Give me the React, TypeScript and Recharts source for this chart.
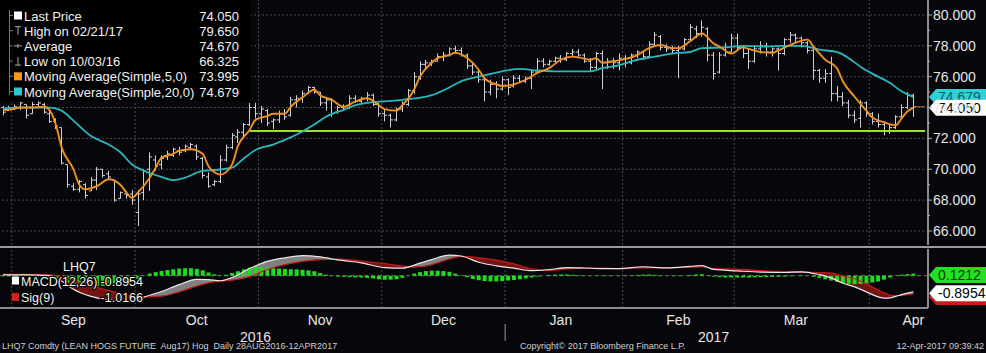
import React from "react";
import { ComposedChart, Bar, Line, Area, XAxis, YAxis, ReferenceLine } from "recharts";

// daily bars [open, high, low, close], one array per month
const augBars = [
  [74.0, 74.1, 73.5, 73.7], [73.8, 74.1, 73.8, 74.0],
];
const sepBars = [
  [74.0, 74.2, 73.85, 74.05], [74.0, 74.35, 73.85, 74.3], [74.2, 74.2, 73.3, 73.5],
  [73.6, 74.35, 73.6, 74.2], [74.2, 74.4, 74.0, 74.3], [74.2, 74.3, 73.6, 73.7],
  [73.6, 73.8, 73.0, 73.1], [73.1, 73.3, 72.6, 72.8], [72.7, 72.7, 70.3, 70.4],
  [70.3, 70.3, 68.8, 69.0], [68.9, 69.1, 68.6, 68.7], [68.7, 69.3, 68.5, 69.2],
  [69.0, 69.1, 68.1, 68.3], [68.6, 69.5, 68.6, 69.3], [69.3, 70.15, 68.65, 70.0],
  [70.0, 70.0, 69.45, 69.6], [69.7, 69.9, 69.3, 69.5], [69.3, 69.3, 67.9, 68.0],
  [68.1, 68.55, 68.1, 68.5], [68.4, 68.6, 68.1, 68.3], [68.4, 68.65, 67.7, 68.0],
];
const octBars = [
  [67.2, 68.65, 66.325, 68.4], [68.5, 70.0, 68.0, 69.9], [70.0, 71.1, 68.6, 70.8],
  [70.6, 70.9, 69.9, 70.2], [70.3, 70.9, 70.0, 70.7], [70.8, 71.2, 70.6, 71.0],
  [70.9, 71.4, 70.8, 71.3], [71.2, 71.45, 70.9, 71.1], [71.2, 71.6, 71.1, 71.5],
  [71.4, 71.7, 71.25, 71.6], [71.5, 71.6, 70.6, 70.8], [70.7, 70.8, 69.4, 69.6],
  [69.5, 69.8, 68.8, 68.9], [69.0, 69.3, 68.9, 69.2], [69.2, 70.9, 69.1, 70.6],
  [70.6, 71.6, 70.5, 71.4], [71.4, 72.35, 71.3, 72.2], [72.1, 72.6, 71.7, 72.4],
  [72.4, 73.0, 72.0, 72.9], [72.9, 74.3, 72.8, 74.0], [74.0, 74.3, 73.3, 73.6],
];
const novBars = [
  [73.6, 74.1, 73.0, 73.9], [73.8, 73.9, 72.8, 73.0], [73.1, 73.3, 72.6, 73.2],
  [73.2, 73.8, 73.0, 73.6], [73.6, 73.9, 73.2, 73.4], [73.5, 74.7, 73.4, 74.5],
  [74.5, 74.8, 74.0, 74.6], [74.6, 75.1, 74.3, 74.9], [74.9, 75.4, 74.9, 75.3],
  [75.3, 75.35, 74.9, 75.0], [75.0, 75.0, 74.1, 74.3], [74.3, 74.7, 73.8, 74.5],
  [74.5, 74.6, 73.4, 73.6], [73.7, 74.1, 73.6, 74.0], [74.0, 74.2, 73.8, 73.9],
  [74.0, 74.8, 73.9, 74.6], [74.6, 74.8, 74.3, 74.4], [74.4, 74.7, 74.3, 74.6],
  [74.6, 75.0, 74.4, 74.8], [74.8, 74.9, 74.1, 74.2], [74.2, 74.3, 73.4, 73.6],
];
const decBars = [
  [73.6, 73.9, 73.1, 73.5], [73.5, 73.6, 72.7, 73.2], [73.2, 74.0, 73.1, 73.9],
  [73.9, 74.4, 73.7, 74.2], [74.2, 75.2, 74.1, 75.1], [75.1, 76.3, 74.9, 76.0],
  [76.0, 77.0, 75.8, 76.8], [76.8, 77.1, 76.5, 76.9], [76.9, 77.1, 76.7, 77.0],
  [77.0, 77.5, 77.0, 77.3], [77.3, 77.6, 77.0, 77.4], [77.4, 77.9, 77.3, 77.8],
  [77.8, 78.0, 77.5, 77.7], [77.7, 77.9, 77.3, 77.4], [77.4, 77.5, 76.5, 76.7],
  [76.7, 76.9, 76.1, 76.3], [76.3, 76.5, 75.6, 75.8], [75.8, 76.0, 74.4, 75.0],
  [75.0, 75.8, 74.8, 75.5], [75.5, 75.7, 74.6, 75.2], [75.2, 76.0, 75.1, 75.8],
];
const janBars = [
  [75.8, 75.9, 74.8, 75.3], [75.4, 76.1, 75.3, 75.9], [75.9, 76.1, 75.6, 75.7],
  [75.7, 76.0, 75.6, 75.9], [75.9, 76.4, 75.2, 76.3], [76.3, 77.2, 76.2, 77.0],
  [77.0, 77.2, 76.6, 76.8], [76.8, 77.1, 76.7, 77.0], [77.0, 77.3, 76.9, 77.2],
  [77.2, 77.4, 76.9, 77.1], [77.1, 77.6, 77.0, 77.5], [77.5, 77.8, 77.3, 77.6],
  [77.6, 77.8, 77.3, 77.4], [77.4, 77.5, 76.9, 77.0], [77.0, 77.2, 76.3, 76.6],
  [76.6, 77.6, 76.5, 77.5], [77.5, 77.7, 75.2, 76.6], [76.6, 77.2, 76.5, 77.0],
  [77.0, 77.2, 76.5, 76.9], [76.9, 77.5, 76.4, 77.2],
];
const febBars = [
  [77.2, 77.4, 76.6, 76.9], [76.9, 77.5, 76.8, 77.4], [77.4, 77.7, 77.2, 77.6],
  [77.6, 77.7, 77.1, 77.3], [77.3, 78.3, 77.3, 78.1], [78.1, 78.9, 78.0, 78.7],
  [78.6, 78.7, 77.7, 77.9], [77.9, 78.1, 77.6, 77.8], [77.8, 78.0, 77.5, 77.7],
  [77.7, 78.0, 75.9, 77.8], [77.8, 78.5, 77.7, 78.4], [78.4, 79.4, 78.3, 79.2],
  [79.1, 79.3, 78.5, 78.8], [78.8, 79.65, 78.6, 79.2], [79.1, 79.2, 77.0, 77.4],
  [77.4, 77.6, 75.8, 76.2], [76.3, 77.6, 76.2, 77.4], [77.4, 78.2, 77.3, 77.6],
  [77.6, 78.8, 77.6, 78.5],
];
const marBars = [
  [78.5, 78.8, 77.7, 77.9], [77.9, 78.0, 77.2, 77.5], [77.5, 77.8, 76.5, 77.0],
  [77.0, 78.0, 76.9, 77.8], [77.8, 78.3, 77.5, 78.0], [78.0, 78.2, 77.3, 77.6],
  [77.6, 77.9, 77.3, 77.8], [77.8, 77.9, 76.4, 77.5], [77.5, 78.5, 77.4, 78.4],
  [78.4, 78.9, 78.2, 78.7], [78.7, 78.8, 78.2, 78.5], [78.5, 78.6, 77.9, 78.2],
  [78.2, 78.3, 77.5, 77.7], [77.7, 77.8, 75.8, 76.4], [76.4, 76.5, 75.6, 75.9],
  [75.9, 76.5, 75.6, 76.2], [76.2, 77.3, 74.4, 74.9], [74.9, 75.4, 74.4, 74.7],
  [74.7, 75.0, 74.1, 74.3], [74.3, 74.5, 73.3, 73.5], [73.5, 73.8, 73.0, 73.2],
  [73.3, 74.5, 72.7, 74.3], [74.3, 74.4, 73.4, 73.6],
];
const aprBars = [
  [73.6, 73.7, 72.9, 73.1], [73.1, 73.6, 72.7, 72.9], [72.9, 73.0, 72.2, 72.5],
  [72.5, 72.9, 72.3, 72.7], [72.7, 73.5, 72.6, 73.4], [73.4, 74.2, 73.3, 74.0],
  [74.0, 75.0, 73.9, 74.8], [74.8, 74.9, 73.4, 74.05],
];

// moving averages: [bar index, value]
const ma5Points = [
  [0, 73.85], [1, 73.85], [3, 74.0], [5, 74.0], [7, 74.05], [8, 73.8], [9, 72.9], [10, 71.4],
  [12, 70.0], [13, 69.0], [14, 68.7], [16, 68.9], [18, 69.35], [20, 69.0], [21, 68.5], [22, 68.15],
  [23, 68.5], [25, 69.45], [26, 70.1], [27, 70.75], [29, 71.0], [30, 71.2], [32, 71.3], [34, 71.0],
  [35, 70.2], [36, 69.8], [37, 69.65], [39, 70.3], [40, 71.5], [42, 72.55], [43, 73.2], [45, 73.45],
  [46, 73.6], [48, 73.6], [49, 74.05], [51, 74.65], [53, 75.15], [54, 74.8], [56, 74.5], [58, 74.05],
  [60, 74.4], [62, 74.6], [64, 74.15], [65, 73.9], [67, 73.8], [68, 74.15], [70, 75.15], [71, 76.0],
  [73, 76.9], [74, 77.2], [76, 77.4], [77, 77.55], [78, 77.45], [80, 76.9], [81, 76.45], [82, 75.9],
  [84, 75.5], [85, 75.4], [87, 75.5], [89, 75.8], [91, 76.25], [93, 76.55], [95, 77.1], [97, 77.3],
  [98, 77.25], [100, 77.1], [101, 77.2], [102, 76.9], [104, 77.0], [106, 77.15], [108, 77.4],
  [110, 77.85], [112, 78.05], [114, 77.85], [115, 77.85], [117, 78.3], [119, 78.8], [121, 78.15],
  [122, 77.95], [124, 77.5], [126, 77.9], [127, 77.8], [129, 77.6], [131, 77.55], [132, 77.7],
  [134, 78.05], [137, 78.4], [138, 77.95], [140, 77.1], [142, 76.55], [143, 75.7], [145, 74.7],
  [147, 73.8], [148, 73.35], [150, 73.05], [152, 72.85], [153, 73.3], [154, 73.75], [155, 73.995],
];
const ma20Points = [
  [0, 73.95], [3, 74.0], [8, 74.0], [10, 73.8], [12, 73.15], [15, 72.15], [18, 71.6], [20, 71.1],
  [22, 70.3], [24, 69.9], [27, 69.5], [29, 69.3], [31, 69.45], [34, 69.9], [36, 69.95], [39, 70.1],
  [41, 70.7], [43, 71.25], [46, 71.6], [48, 71.9], [51, 72.45], [53, 72.9], [55, 73.4], [58, 73.85],
  [60, 74.15], [63, 74.35], [65, 74.4], [68, 74.5], [73, 74.8], [76, 75.3], [78, 75.7], [81, 76.0],
  [85, 76.35], [88, 76.5], [91, 76.4], [94, 76.35], [97, 76.35], [100, 76.35], [102, 76.55],
  [105, 76.75], [107, 77.0], [111, 77.3], [114, 77.5], [117, 77.6], [119, 77.85], [123, 77.9],
  [126, 78.0], [130, 77.95], [133, 78.0], [136, 78.0], [139, 77.75], [142, 77.6], [144, 77.2],
  [146, 76.65], [148, 76.2], [151, 75.6], [153, 75.05], [155, 74.679],
];

// MACD(12,26) and Sig(9): [bar index, macd, signal]
const macdPoints = [
  [0, 0.05, 0.08], [4, 0.05, 0.07], [8, 0.0, 0.05], [10, -0.3, -0.05], [12, -0.75, -0.27],
  [15, -1.15, -0.55], [18, -1.35, -0.83], [21, -1.4, -1.06], [23, -1.35, -1.17], [24, -1.2, -1.18],
  [27, -0.88, -1.14], [30, -0.5, -0.9], [33, -0.2, -0.58], [35, -0.22, -0.4], [37, -0.28, -0.3],
  [39, -0.1, -0.25], [42, 0.4, -0.05], [45, 0.8, 0.35], [48, 1.0, 0.62], [51, 1.12, 0.8],
  [54, 1.05, 0.9], [57, 0.88, 0.93], [61, 0.72, 0.82], [65, 0.45, 0.67], [68, 0.42, 0.54],
  [71, 0.7, 0.5], [73, 0.9, 0.62], [76, 1.15, 0.93], [78, 1.1, 1.08], [81, 0.75, 1.0],
  [84, 0.55, 0.87], [87, 0.42, 0.66], [90, 0.28, 0.38], [93, 0.34, 0.3], [96, 0.45, 0.38],
  [99, 0.43, 0.42], [102, 0.4, 0.42], [105, 0.4, 0.4], [109, 0.5, 0.44], [113, 0.44, 0.44],
  [117, 0.52, 0.48], [119, 0.57, 0.49], [121, 0.35, 0.4], [125, 0.27, 0.37], [129, 0.2, 0.28],
  [133, 0.18, 0.23], [136, 0.22, 0.2], [139, 0.06, 0.18], [141, -0.12, 0.15], [143, -0.42, -0.02],
  [145, -0.62, -0.17], [147, -0.9, -0.45], [149, -1.18, -0.8], [150, -1.25, -0.95],
  [151, -1.24, -1.08], [152, -1.15, -1.12], [153, -1.05, -1.1], [154, -0.97, -1.06],
  [155, -0.8954, -1.0166],
];

// Diff histogram, one value per bar, by month
const diffAug = [-0.03, -0.03];
const diffSep = [-0.02, -0.02, -0.02, -0.01, 0, -0.02, -0.05, -0.12, -0.25, -0.38, -0.48, -0.55, -0.6, -0.6, -0.58, -0.56, -0.52, -0.46, -0.4, -0.34, -0.26];
const diffOct = [-0.18, 0.02, 0.12, 0.2, 0.26, 0.32, 0.36, 0.4, 0.42, 0.42, 0.38, 0.3, 0.18, 0.08, 0.02, 0.05, 0.15, 0.25, 0.35, 0.45, 0.5];
const diffNov = [0.48, 0.45, 0.42, 0.4, 0.38, 0.36, 0.35, 0.33, 0.3, 0.25, 0.15, 0.06, -0.02, -0.05, -0.06, -0.08, -0.1, -0.1, -0.12, -0.15, -0.2];
const diffDec = [-0.22, -0.22, -0.2, -0.12, 0, 0.12, 0.2, 0.26, 0.28, 0.28, 0.26, 0.22, 0.12, 0.02, -0.08, -0.18, -0.25, -0.3, -0.32, -0.32, -0.3];
const diffJan = [-0.27, -0.24, -0.2, -0.15, -0.1, -0.05, 0, 0.04, 0.06, 0.07, 0.07, 0.05, 0.03, 0.01, 0, 0.01, -0.02, -0.02, -0.01, 0];
const diffFeb = [0.01, 0.02, 0.04, 0.06, 0.07, 0.05, 0.02, 0, -0.02, -0.02, 0, 0.04, 0.07, 0.08, 0.02, -0.05, -0.08, -0.1, -0.1];
const diffMar = [-0.1, -0.1, -0.1, -0.09, -0.08, -0.08, -0.07, -0.06, -0.05, -0.03, 0, 0.02, 0, -0.06, -0.12, -0.2, -0.27, -0.34, -0.4, -0.45, -0.47, -0.46, -0.43];
const diffApr = [-0.38, -0.32, -0.22, -0.1, 0.02, 0.06, 0.09, 0.1212];

// first bar of each month (gridlines) and axis labels
const monthStarts = [2, 23, 44, 65, 86, 106, 125, 148];
const monthLabels = [[12, "Sep"], [33, "Oct"], [54, "Nov"], [75, "Dec"], [95, "Jan"], [115, "Feb"], [135, "Mar"], [155, "Apr"]];
const yearLabels = [[43, "2016"], [121, "2017"]];
const yearBreak = 86;
const priceTicks = [66, 67, 68, 69, 70, 71, 72, 73, 74, 75, 76, 77, 78, 79, 80];
const priceGrid = [66, 68, 70, 72, 74, 76, 78, 80];
const supportLine = { from: 42, value: 72.48 };

const legendRows = [
  { label: "Last Price", value: "74.050", icon: "square", color: "#ffffff" },
  { label: "High on 02/21/17", value: "79.650", icon: "high", color: "#aaaaaa" },
  { label: "Average", value: "74.670", icon: "avg", color: "#aaaaaa" },
  { label: "Low on 10/03/16", value: "66.325", icon: "low", color: "#aaaaaa" },
  { label: "Moving Average(Simple,5,0)", value: "73.995", icon: "square", color: "#f7941d" },
  { label: "Moving Average(Simple,20,0)", value: "74.679", icon: "square", color: "#2ec8cc" },
];
const macdLegend = [
  { label: "MACD(12,26)", value: "-0.8954", color: "#ffffff" },
  { label: "Sig(9)", value: "-1.0166", color: "#d21f1f" },
  { label: "Diff", value: "0.1212", color: "#22d822" },
];

const FONT = "'Liberation Sans', Arial, sans-serif";
const W = 986;
const AXIS_W = 58;
const SLOTS = 158;
const BAR_COLOR = "#cfcfd8";
const GRID = "#4a4a54";

const allBars = [...augBars, ...sepBars, ...octBars, ...novBars, ...decBars, ...janBars, ...febBars, ...marBars, ...aprBars];
const allDiff = [...diffAug, ...diffSep, ...diffOct, ...diffNov, ...diffDec, ...diffJan, ...diffFeb, ...diffMar, ...diffApr];
const ma5Map = new Map(ma5Points.map(([i, v]) => [i, v]));
const ma20Map = new Map(ma20Points.map(([i, v]) => [i, v]));
const macdMap = new Map(macdPoints.map(([i, m, s]) => [i, [m, s]]));

const priceData = Array.from({ length: SLOTS }, (_, i) => {
  const b = allBars[i];
  return {
    i,
    o: b ? b[0] : undefined,
    h: b ? b[1] : undefined,
    l: b ? b[2] : undefined,
    c: b ? b[3] : undefined,
    ma5: ma5Map.get(i),
    ma20: ma20Map.get(i),
  };
});

const macdData = Array.from({ length: SLOTS }, (_, i) => {
  const ms = macdMap.get(i);
  const row: any = { i, diff: allDiff[i] };
  if (ms) {
    const [m, s] = ms;
    row.macd = m;
    row.sig = s;
    row.up = m >= s ? [s, m] : [m, m];
    row.dn = m < s ? [m, s] : [s, s];
  }
  return row;
});

const OhlcShape = (props: any) => {
  const { x, y, width, height, payload } = props;
  if (payload == null || payload.h == null) return null;
  const top = Math.min(y, y + height);
  const span = Math.max(Math.abs(height), 1);
  const range = payload.h - payload.l || 1;
  const cx = Math.round(x + width / 2) + 0.5;
  const oy = top + ((payload.h - payload.o) / range) * span;
  const cy = top + ((payload.h - payload.c) / range) * span;
  return (
    <g stroke={BAR_COLOR} strokeWidth={1}>
      <line x1={cx} x2={cx} y1={top} y2={top + span} />
      <line x1={cx - 2.5} x2={cx} y1={oy} y2={oy} />
      <line x1={cx} x2={cx + 2.5} y1={cy} y2={cy} />
    </g>
  );
};

const PriceTick = (props: any) => {
  const { x, y, payload } = props;
  const v = payload.value as number;
  const major = v % 2 === 0;
  return (
    <g>
      <line x1={x} x2={x + (major ? 4 : 2)} y1={y} y2={y} stroke="#b0b0b0" />
      {major && (
        <text x={x + 5} y={y + 5} fill="#e6e6e6" fontSize={14} fontFamily={FONT}>
          {v.toFixed(3)}
        </text>
      )}
    </g>
  );
};

const monthMap = new Map(monthLabels.map(([i, t]) => [i as number, t as string]));
const yearMap = new Map(yearLabels.map(([i, t]) => [i as number, t as string]));

const DateTick = (props: any) => {
  const { x, y, payload } = props;
  const v = payload.value as number;
  const m = monthMap.get(v);
  const yr = yearMap.get(v);
  const band = (W - AXIS_W) / SLOTS;
  return (
    <g fontFamily={FONT} fontSize={14} fill="#e6e6e6">
      {m && <text x={x} y={y + 17} textAnchor="middle">{m}</text>}
      {yr && <text x={x} y={y + 34} textAnchor="middle">{yr}</text>}
      {v === yearBreak && <line x1={x - band / 2} x2={x - band / 2} y1={y + 16} y2={y + 33} stroke="#9a9a9a" />}
    </g>
  );
};

const tag = (text: string, bg: string, fg: string, shift = 0) => (props: any) => {
  const vb = props.viewBox || {};
  const x0 = (vb.x || 0) + (vb.width || 0);
  const yc = (vb.y || 0) + shift;
  return (
    <g>
      <path d={`M${x0 + 1},${yc} L${x0 + 8},${yc - 8} H${W} V${yc + 8} H${x0 + 8} Z`} fill={bg} />
      {text && <text x={x0 + 10} y={yc + 5} fill={fg} fontSize={14} fontFamily={FONT}>{text}</text>}
    </g>
  );
};

const LegendIcon = ({ icon, color, cy }: { icon: string; color: string; cy: number }) => {
  if (icon === "square") return <rect x={14} y={cy - 4} width={8} height={8} fill={color} />;
  if (icon === "high")
    return (
      <g stroke={color}>
        <line x1={15} x2={21} y1={cy - 4} y2={cy - 4} />
        <line x1={18} x2={18} y1={cy - 4} y2={cy + 4} />
      </g>
    );
  if (icon === "low")
    return (
      <g stroke={color}>
        <line x1={15} x2={21} y1={cy + 4} y2={cy + 4} />
        <line x1={18} x2={18} y1={cy - 4} y2={cy + 4} />
      </g>
    );
  return (
    <g stroke={color}>
      <line x1={14} x2={22} y1={cy} y2={cy} />
      <line x1={18} x2={18} y1={cy - 2} y2={cy + 2} />
    </g>
  );
};

const PriceLegend = () => (
  <svg width={251} height={101} style={{ position: "absolute", left: 0, top: 0 }}>
    <rect x={0} y={0} width={251} height={101} fill="#000" fillOpacity={0.9} />
    <line x1={9.5} x2={9.5} y1={10} y2={95} stroke="#777" />
    {legendRows.map((r, k) => {
      const cy = 15.5 + k * 15.2;
      return (
        <g key={r.label}>
          <line x1={9} x2={13} y1={cy} y2={cy} stroke="#777" />
          <LegendIcon icon={r.icon} color={r.color} cy={cy} />
          <text x={24} y={cy + 5} fill="#f0f0f0" fontSize={13} fontFamily={FONT}>{r.label}</text>
          <text x={239} y={cy + 5} fill="#f0f0f0" fontSize={13} fontFamily={FONT} textAnchor="end">{r.value}</text>
        </g>
      );
    })}
  </svg>
);

const MacdLegend = () => (
  <div style={{ position: "absolute", left: 0, top: 249, width: 150, height: 59, overflow: "hidden" }}>
    <svg width={150} height={75} style={{ position: "absolute", left: 0, top: 0 }}>
      <g fontFamily={FONT} fontSize={12.5} fill="#f4f4f4" stroke="#000" strokeWidth={2.5} paintOrder="stroke" strokeLinejoin="round">
        <text x={63} y={22}>LHQ7</text>
        {macdLegend.map((r, k) => {
          const cy = 31.5 + k * 16.5;
          return (
            <g key={r.label}>
              <rect x={12} y={cy - 4} width={7} height={8} fill={r.color} stroke="none" />
              <text x={21} y={cy + 5}>{r.label}</text>
              <text x={143} y={cy + 5} textAnchor="end">{r.value}</text>
            </g>
          );
        })}
      </g>
    </svg>
  </div>
);

export default function App() {
  return (
    <div style={{ position: "absolute", left: 0, top: 0, width: W, height: 353, background: "#07070b", overflow: "hidden" }}>
      <div style={{ position: "absolute", left: 0, top: 0 }}>
        <ComposedChart width={W} height={245} data={priceData} margin={{ top: 0, right: 0, bottom: 0, left: 0 }}>
          <XAxis dataKey="i" type="category" hide />
          <YAxis
            orientation="right"
            width={AXIS_W}
            type="number"
            domain={[65.09, 80.97]}
            allowDataOverflow
            ticks={priceTicks}
            interval={0}
            tickSize={0}
            tickMargin={0}
            tickLine={false}
            axisLine={{ stroke: "#8c8c8c", strokeWidth: 2 }}
            tick={<PriceTick />}
          />
          {priceGrid.map((v) => (
            <ReferenceLine key={"h" + v} y={v} stroke={GRID} strokeDasharray="2 2" zIndex={-10} />
          ))}
          {monthStarts.map((v) => (
            <ReferenceLine key={"v" + v} x={v} position="start" stroke={GRID} strokeDasharray="2 2" zIndex={-10} />
          ))}
          <ReferenceLine
            segment={[{ x: supportLine.from, y: supportLine.value }, { x: SLOTS - 1, y: supportLine.value }]}
            stroke="#9ce02c"
            strokeWidth={2}
            ifOverflow="visible"
          />
          <Bar dataKey={(d: any) => (d.h == null ? null : [d.l, d.h])} barSize={5} shape={<OhlcShape />} isAnimationActive={false} />
          <Line dataKey="ma20" type="monotone" stroke="#2ab7bb" strokeWidth={1.8} dot={false} connectNulls isAnimationActive={false} />
          <Line dataKey="ma5" type="monotone" stroke="#f0921f" strokeWidth={1.9} dot={false} connectNulls isAnimationActive={false} />
          <ReferenceLine
            segment={[{ x: allBars.length - 1, y: 74.05 }, { x: SLOTS - 1, y: 74.05 }]}
            stroke="#b5732c"
            strokeWidth={1}
            ifOverflow="visible"
          />
          <ReferenceLine y={74.679} stroke="none" label={tag("74.679", "#2fd0d6", "#0c5d62", 0)} />
          <ReferenceLine y={74.05} stroke="none" label={tag("74.050", "#ffffff", "#000000", 1)} />
        </ComposedChart>
      </div>
      <PriceLegend />
      <div style={{ position: "absolute", left: 0, top: 246, width: W, height: 2, background: "#9a9a9a" }} />
      <div style={{ position: "absolute", left: 0, top: 249 }}>
        <ComposedChart width={W} height={105} data={macdData} margin={{ top: 0, right: 0, bottom: 0, left: 0 }}>
          <XAxis
            dataKey="i"
            type="category"
            height={46}
            ticks={[...monthLabels.map((m) => m[0]), ...yearLabels.map((y) => y[0]), yearBreak]}
            interval={0}
            tickSize={0}
            tickMargin={0}
            tickLine={false}
            axisLine={{ stroke: "#8c8c8c", strokeWidth: 2 }}
            tick={<DateTick />}
          />
          <YAxis
            orientation="right"
            width={AXIS_W}
            type="number"
            domain={[-1.8, 1.49]}
            allowDataOverflow
            tick={false}
            tickLine={false}
            axisLine={{ stroke: "#8c8c8c", strokeWidth: 2 }}
          />
          {monthStarts.map((v) => (
            <ReferenceLine key={"mv" + v} x={v} position="start" stroke={GRID} strokeDasharray="2 2" zIndex={-10} />
          ))}
          <ReferenceLine y={0} stroke="#6f7a6f" strokeDasharray="4 3" zIndex={-10} />
          <Area dataKey="up" type="monotone" stroke="none" fill="#8e8e8e" fillOpacity={0.9} connectNulls isAnimationActive={false} />
          <Area dataKey="dn" type="monotone" stroke="none" fill="#7c1515" fillOpacity={0.95} connectNulls isAnimationActive={false} />
          <Bar dataKey="diff" barSize={4} fill="#1fdc1f" isAnimationActive={false} />
          <Line dataKey="sig" type="monotone" stroke="#c81c1c" strokeWidth={1.2} dot={false} connectNulls isAnimationActive={false} />
          <Line dataKey="macd" type="monotone" stroke="#e8e8e8" strokeWidth={1.2} dot={false} connectNulls isAnimationActive={false} />
          <ReferenceLine y={0.1212} stroke="none" label={tag("0.1212", "#22e022", "#063806", 1.5)} />
          <ReferenceLine y={-1.0166} stroke="none" label={tag("", "#c81c1c", "#ffffff", 3)} />
          <ReferenceLine y={-0.8954} stroke="none" label={tag("-0.8954", "#ffffff", "#000000", 1.5)} />
        </ComposedChart>
      </div>
      <MacdLegend />
      <div style={{ position: "absolute", left: 2, top: 341, fontFamily: FONT, fontSize: 9, color: "#cfcfcf", whiteSpace: "pre" }}>
        {"LHQ7 Comdty (LEAN HOGS FUTURE  Aug17) Hog  Daily 28AUG2016-12APR2017"}
      </div>
      <div style={{ position: "absolute", left: 520, top: 341, fontFamily: FONT, fontSize: 9, color: "#cfcfcf" }}>
        Copyright© 2017 Bloomberg Finance L.P.
      </div>
      <div style={{ position: "absolute", right: 2, top: 341, fontFamily: FONT, fontSize: 9, color: "#cfcfcf" }}>
        12-Apr-2017 09:39:42
      </div>
    </div>
  );
}
